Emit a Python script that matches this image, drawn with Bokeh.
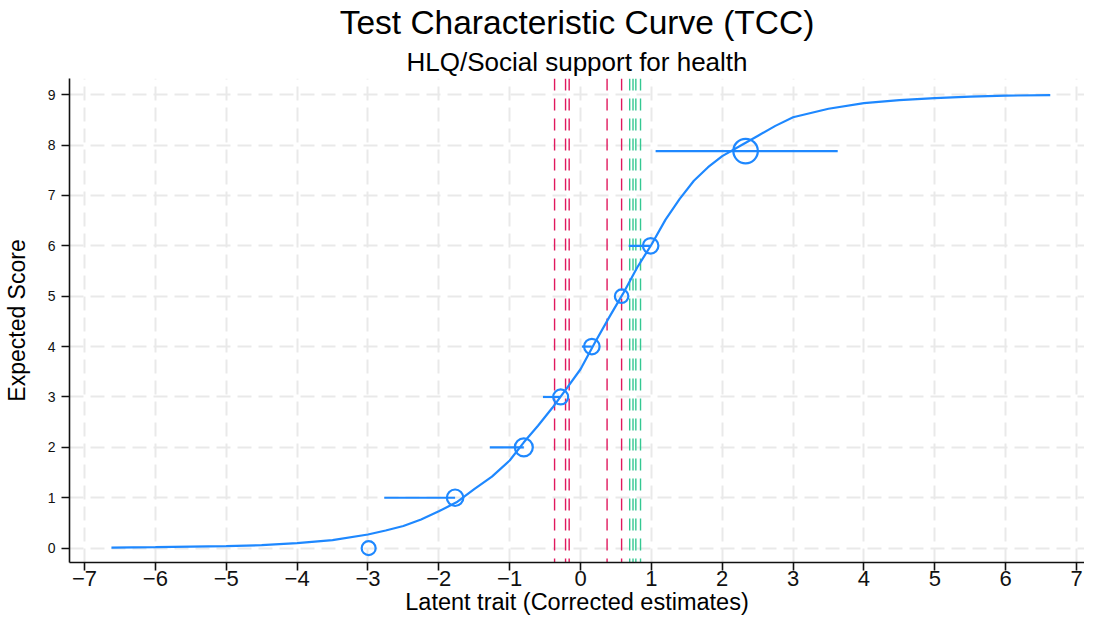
from bokeh.plotting import figure
from bokeh.models import Range1d, Span, Title, FixedTicker
from bokeh.embed import file_html
from bokeh.resources import INLINE

# --- data ---
curve_x = [-6.62, -6.0, -5.5, -5.0, -4.5, -4.0, -3.5, -3.0, -2.75, -2.5, -2.25,
           -2.0, -1.75, -1.5, -1.25, -1.0, -0.8, -0.6, -0.4, -0.2, 0.0, 0.2,
           0.4, 0.6, 0.8, 1.0, 1.2, 1.4, 1.6, 1.8, 2.0, 2.25, 2.5, 2.75, 3.0,
           3.5, 4.0, 4.5, 5.0, 5.5, 6.0, 6.63]
curve_y = [0.01, 0.02, 0.03, 0.04, 0.06, 0.10, 0.16, 0.27, 0.35, 0.44, 0.57,
           0.73, 0.91, 1.17, 1.42, 1.74, 2.10, 2.43, 2.78, 3.16, 3.55, 4.07,
           4.57, 5.05, 5.57, 6.02, 6.52, 6.93, 7.29, 7.56, 7.78, 7.98, 8.18,
           8.38, 8.55, 8.72, 8.83, 8.89, 8.93, 8.96, 8.98, 8.99]

pt_x = [-2.99, -1.77, -0.80, -0.28, 0.16, 0.58, 0.99, 2.33]
pt_y = [0, 1, 2, 3, 4, 5, 6, 7.88]
pt_size = [14, 16.5, 18, 15, 15.5, 13.5, 15.5, 24.5]
bar_lo = [-2.99, -2.77, -1.28, -0.53, 0.02, 0.58, 0.68, 1.06]
bar_hi = [-2.99, -1.77, -0.80, -0.28, 0.16, 0.58, 0.99, 3.63]

red_thresholds = [-0.366, -0.211, -0.160, 0.375, 0.580]
green_thresholds = [0.694, 0.741, 0.781, 0.847]

x_ticks = list(range(-7, 8))
y_ticks = list(range(0, 10))

title_text = "Test Characteristic Curve (TCC)"
subtitle_text = "HLQ/Social support for health"
x_label = "Latent trait (Corrected estimates)"
y_label = "Expected Score"

BLUE = "#1e88ff"
RED = "#e0185e"
GREEN = "#34c892"
FONT = "Liberation Sans"

p = figure(width=1084, height=617, output_backend="svg", toolbar_location=None,
           title=None,
           x_range=Range1d(-7.212, 7.113), y_range=Range1d(-0.285, 9.32),
           min_border_left=63, min_border_right=0, min_border_top=5,
           min_border_bottom=0)
p.background_fill_color = "white"
p.border_fill_color = "white"
p.outline_line_color = None

sub = Title(text=subtitle_text, align="center", text_font=FONT,
            text_font_size="26px", text_font_style="normal",
            text_color="#000000", standoff=4, offset=3)
p.add_layout(sub, "above")
main = Title(text=title_text, align="center", text_font=FONT,
             text_font_size="33.5px", text_font_style="normal",
             text_color="#000000", standoff=3, offset=3)
p.add_layout(main, "above")

# grid
for g, t in ((p.xgrid, x_ticks), (p.ygrid, y_ticks)):
    g.ticker = FixedTicker(ticks=t)
    g.grid_line_color = "#e9e9e9"
    g.grid_line_width = 2
    g.grid_line_dash = "14 7"

# threshold lines
for v in red_thresholds:
    p.add_layout(Span(location=v, dimension="height", line_color=RED,
                      line_width=1.4, line_dash="12 8", level="underlay"))
for v in green_thresholds:
    p.add_layout(Span(location=v, dimension="height", line_color=GREEN,
                      line_width=1.4, line_dash="12 8", level="underlay"))

# curve, bars, points
p.line(curve_x, curve_y, line_color=BLUE, line_width=2.2)
p.segment(x0=bar_lo, y0=pt_y, x1=bar_hi, y1=pt_y, line_color=BLUE, line_width=2.2)
p.scatter(pt_x, pt_y, marker="circle", size=pt_size, fill_color=None,
          line_color=BLUE, line_width=2.2)

# axes
p.xaxis.ticker = FixedTicker(ticks=x_ticks)
p.xaxis.major_label_overrides = {t: str(t).replace("-", "\u2212") for t in x_ticks}
p.yaxis.ticker = FixedTicker(ticks=y_ticks)
for ax in (p.xaxis, p.yaxis):
    ax.minor_tick_line_color = None
    ax.axis_line_color = "#111111"
    ax.axis_line_width = 1.6
    ax.major_tick_line_color = "#111111"
    ax.major_tick_line_width = 1.6
    ax.major_tick_out = 8
    ax.major_tick_in = 0
    ax.major_label_text_font = FONT
    ax.major_label_text_color = "#111111"
    ax.axis_label_text_font = FONT
    ax.axis_label_text_font_style = "normal"
    ax.axis_label_text_color = "#000000"
    ax.axis_label_text_font_size = "23.5px"

p.xaxis.axis_label = x_label
p.yaxis.axis_label = y_label
p.yaxis.axis_label_text_font_size = "23px"
p.xaxis.major_label_text_font_size = "22px"
p.yaxis.major_label_text_font_size = "14px"
p.xaxis.major_label_standoff = 0
p.yaxis.major_label_standoff = 6
p.xaxis.axis_label_standoff = 0
p.yaxis.axis_label_standoff = 15
p.yaxis.major_label_orientation = "horizontal"

open("out.html", "w").write(file_html(p, INLINE))
